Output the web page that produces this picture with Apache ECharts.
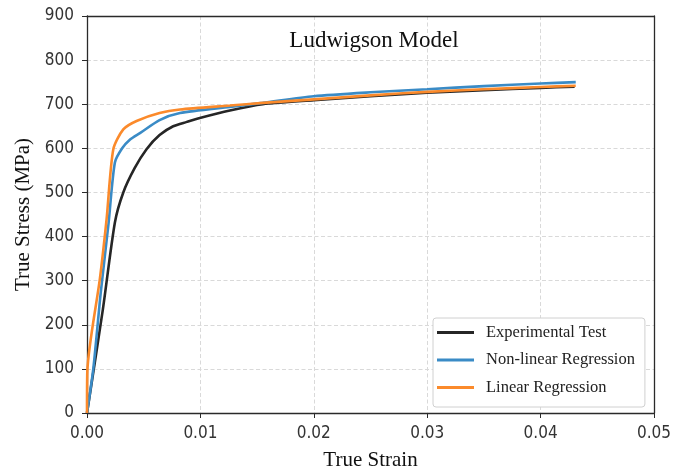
<!DOCTYPE html>
<html>
<head>
<meta charset="utf-8">
<script src="https://cdn.jsdelivr.net/npm/echarts@6/dist/echarts.min.js"></script>
<style>
  html, body { margin: 0; padding: 0; background: #fff; }
  #chart { width: 674px; height: 476px; }
</style>
</head>
<body>
<div id="chart"></div>
<script>
// True strain / true stress (MPa) pairs for each curve
const seriesNames = ['Experimental Test', 'Non-linear Regression', 'Linear Regression'];

const experimentalStrain = [0, 0.0014, 0.00246, 0.0032, 0.0042, 0.00525, 0.0064, 0.0076, 0.0088, 0.00995, 0.0126, 0.0155, 0.02, 0.025, 0.03, 0.035, 0.04, 0.043];
const experimentalStress = [0, 235, 432, 500, 555, 598, 630, 650, 660, 669, 686, 700, 709, 718, 726, 732, 737, 740];

const nonlinearStrain = [0, 0.00056, 0.0012, 0.0019, 0.00246, 0.0031, 0.0038, 0.0047, 0.0064, 0.0082, 0.0126, 0.0155, 0.02, 0.025, 0.03, 0.035, 0.04, 0.0431];
const nonlinearStress = [0, 101, 270, 430, 568, 600, 620, 635, 664, 680, 694, 703, 718, 727, 734, 741, 747, 750];

const linearStrain = [0, 0.00003, 0.00114, 0.00173, 0.00232, 0.0032, 0.00437, 0.0064, 0.0082, 0.0126, 0.0155, 0.02, 0.025, 0.03, 0.035, 0.04, 0.0431];
const linearStress = [0, 95, 305, 440, 598, 643, 662, 680, 688, 697, 703, 711, 720, 728, 734, 739, 742];

const xTicks = [0, 0.01, 0.02, 0.03, 0.04, 0.05];
const yTicks = [0, 100, 200, 300, 400, 500, 600, 700, 800, 900];

const colors = ['#262626', '#3a8bc6', '#fb8a2b'];

const pair = (xs, ys) => xs.map((x, i) => [x, ys[i]]);

const serif = 'Liberation Serif';
const tickFont = '"DejaVu Sans Condensed", "DejaVu Sans", sans-serif';
const frameColor = '#2a2a2a';
const gridLine = { show: true, lineStyle: { color: '#d9d9d9', type: [4, 2.5], width: 1 } };

const chart = echarts.init(document.getElementById('chart'), null, { renderer: 'canvas' });

const makeLine = (name, data, color) => ({
  name,
  type: 'line',
  data,
  symbol: 'none',
  smooth: 0.25,
  lineStyle: { color, width: 2.6 },
  itemStyle: { color },
  xAxisIndex: 0,
  yAxisIndex: 0
});

// plain frame edges on the top and right of the plot box
const frameAxis = (position) => ({
  type: 'value',
  position,
  min: position === 'top' ? xTicks[0] : yTicks[0],
  max: position === 'top' ? xTicks[xTicks.length - 1] : yTicks[yTicks.length - 1],
  z: 5,
  axisLine: { show: true, onZero: false, lineStyle: { color: frameColor, width: 1.3 } },
  axisTick: { show: false },
  axisLabel: { show: false },
  splitLine: { show: false }
});

chart.setOption({
  animation: false,
  backgroundColor: '#fff',
  title: {
    text: 'Ludwigson Model',
    left: 369,
    top: 24,
    textAlign: 'center',
    textStyle: { fontFamily: serif, fontSize: 23, fontWeight: 'normal', color: '#111' }
  },
  grid: { left: 87, right: 19, top: 16, bottom: 61 },
  legend: {
    data: seriesNames,
    orient: 'vertical',
    left: 433,
    top: 318,
    padding: [6, 10, 11, 4],
    itemGap: 10.5,
    itemWidth: 37,
    itemHeight: 3,
    icon: 'rect',
    backgroundColor: '#fff',
    borderColor: '#d0d0d0',
    borderWidth: 1,
    borderRadius: 3,
    textStyle: { fontFamily: serif, fontSize: 16.5, color: '#222', padding: [0, 0, 0, 7] }
  },
  xAxis: [{
    type: 'value',
    min: xTicks[0],
    max: xTicks[xTicks.length - 1],
    interval: 0.01,
    name: 'True Strain',
    nameLocation: 'middle',
    nameGap: 37,
    nameTextStyle: { fontFamily: serif, fontSize: 21, color: '#111' },
    axisLine: { show: true, onZero: false, lineStyle: { color: frameColor, width: 1.3 } },
    axisTick: { show: true, inside: false, length: 5, lineStyle: { color: frameColor } },
    axisLabel: {
      fontFamily: tickFont, fontSize: 17, color: '#333', margin: 12,
      formatter: v => v.toFixed(2)
    },
    splitLine: gridLine
  }, frameAxis('top')],
  yAxis: [{
    type: 'value',
    min: yTicks[0],
    max: yTicks[yTicks.length - 1],
    interval: 100,
    name: 'True Stress (MPa)',
    nameLocation: 'middle',
    nameGap: 51,
    nameRotate: 90,
    nameTextStyle: { fontFamily: serif, fontSize: 21, color: '#111' },
    axisLine: { show: true, onZero: false, lineStyle: { color: frameColor, width: 1.3 } },
    axisTick: { show: true, inside: false, length: 5, lineStyle: { color: frameColor } },
    axisLabel: { fontFamily: tickFont, fontSize: 17, color: '#333', margin: 13 },
    splitLine: gridLine
  }, frameAxis('right')],
  series: [
    makeLine(seriesNames[0], pair(experimentalStrain, experimentalStress), colors[0]),
    makeLine(seriesNames[1], pair(nonlinearStrain, nonlinearStress), colors[1]),
    makeLine(seriesNames[2], pair(linearStrain, linearStress), colors[2])
  ]
});
</script>
</body>
</html>
